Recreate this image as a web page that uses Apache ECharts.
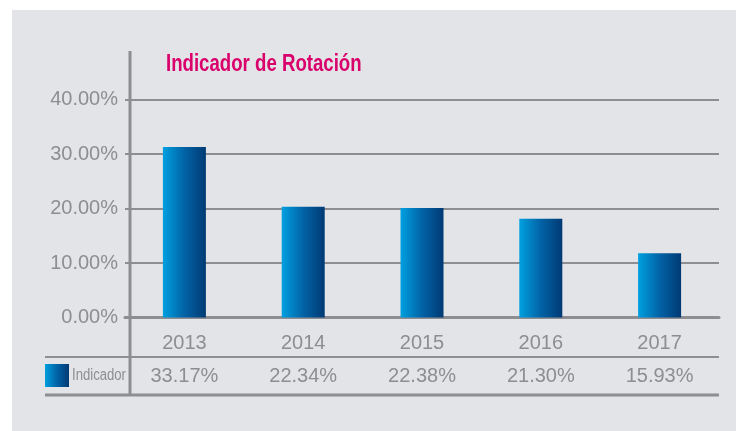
<html>
<head>
    <meta charset="UTF-8">
    <title>Indicador de Rotación</title>
    <script src="https://cdn.jsdelivr.net/npm/echarts@6/dist/echarts.min.js"></script>
    <style>
        body {
            padding: 0;
            margin: 0;
            background: #ffffff;
        }
        #panel {
            position: absolute;
            left: 12px;
            top: 10px;
            width: 724px;
            height: 421px;
            background: #e3e4e8;
        }
        #echart {
            position: absolute;
            left: 0;
            top: 0;
            width: 736px;
            height: 431px;
        }
    </style>
</head>
<body>
<div id="panel"></div>
<div id="echart"></div>
<script>
    // values (percent)
    const years = ['2013', '2014', '2015', '2016', '2017'];
    const barValues = [31.3, 20.3, 20.1, 18.1, 11.8];
    // numbers printed in the table row
    const tableLabels = ['33.17%', '22.34%', '22.38%', '21.30%', '15.93%'];

    const gray = '#8e8d92';
    const font = 'Liberation Sans';

    const barColor = new echarts.graphic.LinearGradient(0, 0, 1, 0, [
        {offset: 0, color: '#00a0e0'},
        {offset: 0.5, color: '#0263a6'},
        {offset: 1, color: '#003a74'}
    ]);

    function buildOption() {
        return {
            animation: false,
            legend: {
                data: ['Indicador'],
                left: 45,
                top: 364,
                padding: 0,
                icon: 'rect',
                itemWidth: 24,
                itemHeight: 23,
                selectedMode: false,
                formatter: () => ' ',
                textStyle: {fontSize: 1}
            },
            grid: {left: 125, right: 17, top: 99.5, bottom: 113.5},
            xAxis: [
                {
                    type: 'category',
                    data: years,
                    axisLine: {lineStyle: {color: gray, width: 3}},
                    axisTick: {show: false},
                    axisLabel: {fontFamily: font, fontSize: 20, color: gray, margin: 16}
                },
                {
                    type: 'category',
                    data: tableLabels,
                    position: 'bottom',
                    offset: 33,
                    axisLine: {show: false},
                    axisTick: {show: false},
                    axisLabel: {fontFamily: font, fontSize: 20, color: gray, margin: 16}
                }
            ],
            yAxis: {
                type: 'value',
                min: 0,
                max: 40,
                interval: 10,
                axisLine: {show: false},
                axisTick: {show: false},
                axisLabel: {
                    fontFamily: font, fontSize: 20, color: gray, margin: 7,
                    formatter: v => v.toFixed(2) + '%'
                },
                splitLine: {lineStyle: {color: gray, width: 2}}
            },
            graphic: [
                // condensed look: regular font squeezed horizontally
                {
                    type: 'text', x: 166, y: 65, scaleX: 0.81,
                    style: {
                        text: 'Indicador de Rotación', fontFamily: font, fontSize: 23, fontWeight: 'bold',
                        fill: '#d9006c', verticalAlign: 'middle'
                    }
                },
                {
                    type: 'text', x: 72, y: 376, scaleX: 0.82,
                    style: {text: 'Indicador', fontFamily: font, fontSize: 16, fill: gray, verticalAlign: 'middle'}
                },
                {type: 'line', shape: {x1: 130, y1: 51, x2: 130, y2: 396}, style: {stroke: gray, lineWidth: 3}, z: 10},
                {type: 'line', shape: {x1: 45, y1: 357, x2: 719, y2: 357}, style: {stroke: gray, lineWidth: 2}},
                {type: 'line', shape: {x1: 45, y1: 395, x2: 719, y2: 395}, style: {stroke: gray, lineWidth: 3}}
            ],
            series: [
                {
                    name: 'Indicador',
                    type: 'bar',
                    xAxisIndex: 0,
                    barWidth: 43,
                    itemStyle: {color: barColor},
                    data: barValues
                }
            ]
        };
    }

    window.onload = function () {
        const ec = echarts.init(document.getElementById('echart'));
        ec.setOption(buildOption());
    };
</script>
</body>
</html>
